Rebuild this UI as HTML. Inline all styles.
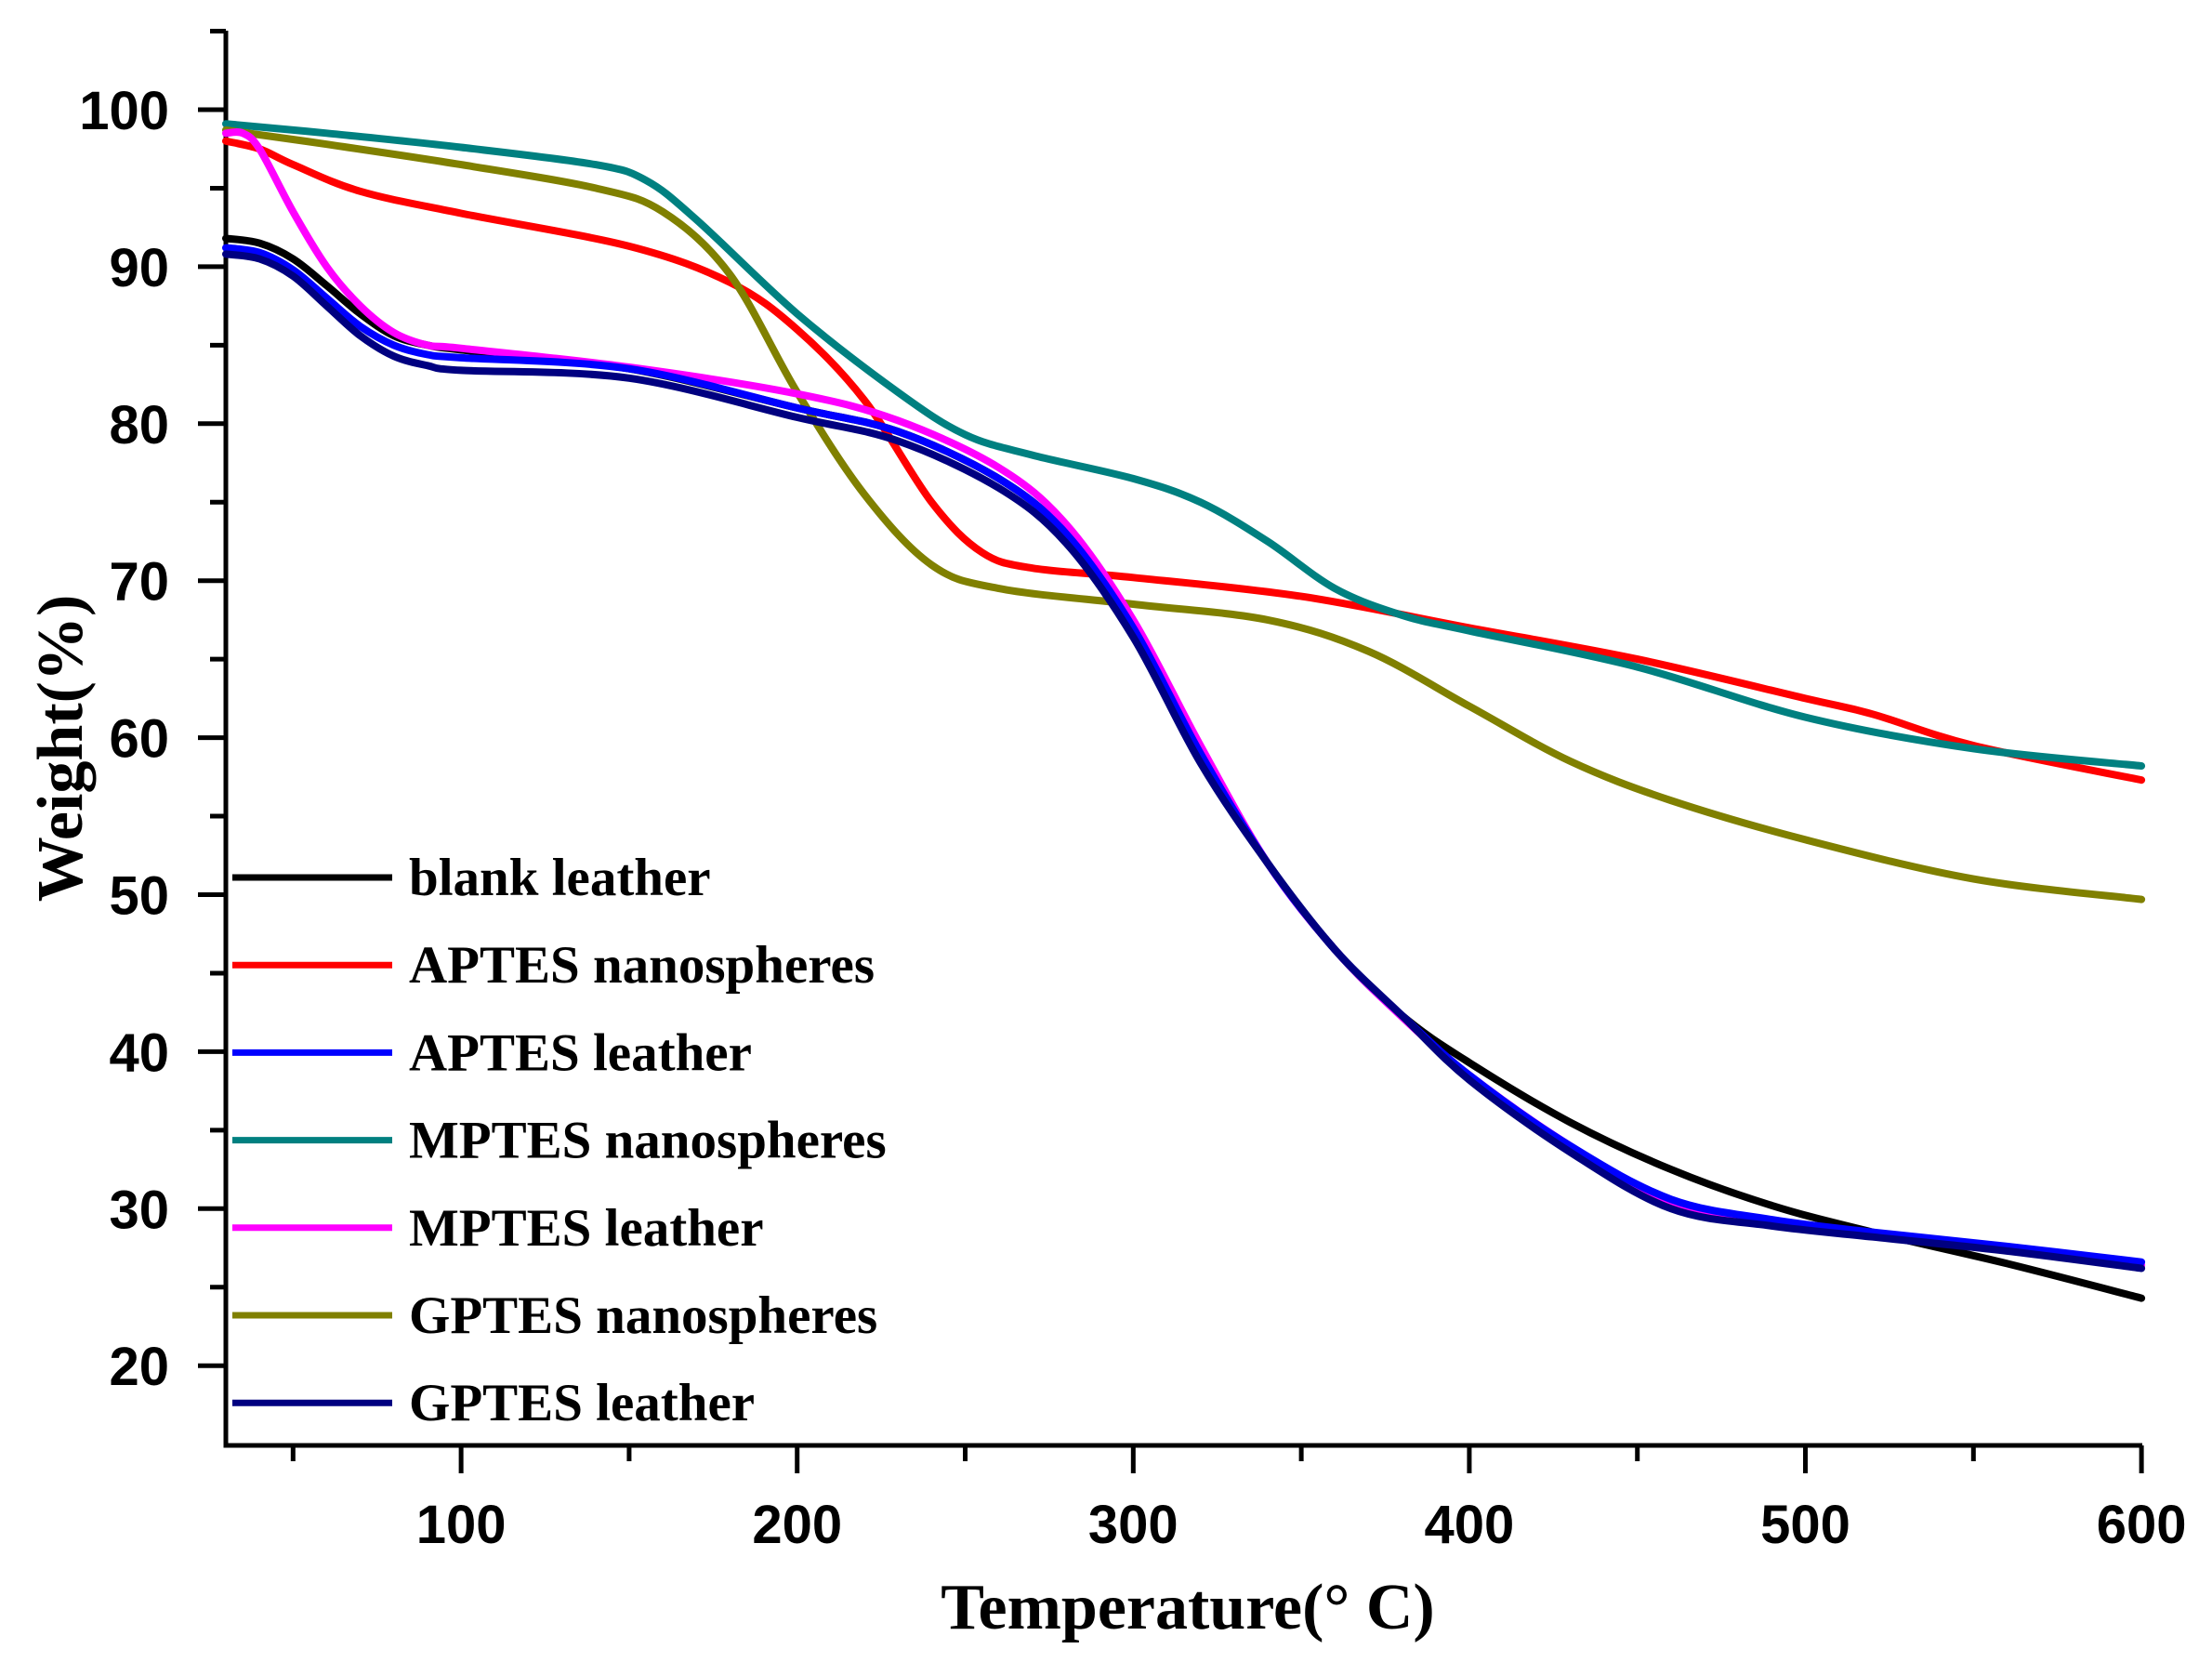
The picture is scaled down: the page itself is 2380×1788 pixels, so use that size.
<!DOCTYPE html>
<html><head><meta charset="utf-8"><style>
html,body{margin:0;padding:0;background:#fff;}
svg{display:block}
</style></head><body>
<svg id="s" width="2380" height="1788" viewBox="0 0 2380 1788" xmlns="http://www.w3.org/2000/svg">
<g id="axes" stroke="#000" stroke-width="5" fill="none"></g>
<g id="curves" fill="none" stroke-width="8" stroke-linejoin="round" stroke-linecap="round"></g>
<g id="labels" font-family="Liberation Sans, sans-serif" font-weight="bold" font-size="58" fill="#000"></g>
<text x="1278" y="1752" text-anchor="middle" font-family="Liberation Serif, serif" font-weight="bold" font-size="70">Temperature(°  C)</text>
<text transform="translate(88,805) rotate(-90)" text-anchor="middle" font-family="Liberation Serif, serif" font-weight="bold" font-size="70">Weight(%)</text>
<g id="legend" font-family="Liberation Serif, serif" font-weight="bold" font-size="57"></g>
</svg>
<script>
const NS="http://www.w3.org/2000/svg";
const X=t=>243+(t-30)*3.616, Y=w=>118+(100-w)*16.89;
function el(p,tag,a,txt){const e=document.createElementNS(NS,tag);for(const k in a)e.setAttribute(k,a[k]);if(txt)e.textContent=txt;p.appendChild(e);return e;}
const ax=document.getElementById('axes'),lb=document.getElementById('labels');
el(ax,'path',{d:`M243,33 L243,1555 L2305,1555`});
for(let t=50;t<=600;t+=50){const maj=t%100==0;el(ax,'line',{x1:X(t),y1:1555,x2:X(t),y2:1555+(maj?30:17)});
 if(maj)el(lb,'text',{x:X(t),y:1660,'text-anchor':'middle'},String(t));}
for(let w=20;w<=105;w+=5){const maj=w%10==0;el(ax,'line',{x1:243,y1:Y(w),x2:243-(maj?30:17),y2:Y(w)});
 if(maj)el(lb,'text',{x:182,y:Y(w)+21,'text-anchor':'end'},String(w));}
function path(pts){pts=pts.map(p=>[X(p[0]),Y(p[1])]);let d=`M${pts[0][0]},${pts[0][1]}`;
 for(let i=0;i<pts.length-1;i++){const p0=pts[Math.max(0,i-1)],p1=pts[i],p2=pts[i+1],p3=pts[Math.min(pts.length-1,i+2)];
 const c1=[p1[0]+(p2[0]-p0[0])/6,p1[1]+(p2[1]-p0[1])/6],c2=[p2[0]-(p3[0]-p1[0])/6,p2[1]-(p3[1]-p1[1])/6];
 d+=` C${c1[0].toFixed(1)},${c1[1].toFixed(1)} ${c2[0].toFixed(1)},${c2[1].toFixed(1)} ${p2[0].toFixed(1)},${p2[1].toFixed(1)}`;}return d;}
const lower=(s,b,c)=>[[150,83.5+b],[200,81+b],[230,79.5+b],[260,76.5+b],[280,73+b],[300,67+b],[320,59+b],[340,52],[360,46.5],[380,42.3],[400,38.5+c]];
const S={
black:[[30,91.8],[40,91.5],[50,90.5],[60,88.8],[70,87],[80,85.6],[90,85],[100,84.7],...lower(0,0,0.8),[430,35.5],[460,32.5],[490,30.2],[520,28.5],[560,26.5],[600,24.3]],
red:[[30,98],[40,97.5],[50,96.5],[70,94.8],[100,93.4],[150,91.3],[180,89],[200,86],[220,81.5],[240,75],[255,71.8],[270,70.8],[300,70.2],[350,69],[400,67],[450,65],[500,62.5],[520,61.5],[550,59.5],[600,57.3]],
blue:[[30,91.2],[40,90.9],[50,89.8],[60,88],[70,86.2],[80,85],[90,84.4],[100,84.2],...lower(0,0,0),[430,34],[460,30.6],[490,29.3],[520,28.5],[560,27.6],[600,26.6]],
teal:[[30,99.1],[60,98.5],[100,97.6],[140,96.5],[155,95.5],[170,93],[200,87],[230,82],[250,79.3],[270,78],[300,76.5],[320,75],[340,72.5],[360,69.5],[380,67.8],[400,66.8],[450,64.5],[500,61.3],[550,59.3],[600,58.2]],
magenta:[[30,98.5],[35,98.5],[40,97.5],[50,93.5],[60,90],[70,87.5],[80,85.8],[90,85],[100,84.8],[150,83.6],[200,81.9],[230,80.2],[260,77.2],[280,73.6],[300,67.5],[320,59.5],[340,52],[360,46.5],[380,42.2],[400,38.5],[430,34],[460,30.4],[490,29.1],[520,28.4],[560,27.5],[600,26.4]],
olive:[[30,98.7],[60,97.8],[100,96.5],[140,95],[160,93.5],[180,89.5],[200,82],[220,75.5],[240,71],[260,69.5],[300,68.5],[340,67.5],[370,65.5],[400,62],[430,58.5],[460,56],[500,53.5],[550,51],[600,49.7]],
navy:[[30,90.8],[40,90.5],[50,89.4],[60,87.5],[70,85.6],[80,84.3],[90,83.7],[100,83.4],...lower(0,-0.6,-0.3),[430,33.6],[460,30],[490,28.9],[520,28.2],[560,27.3],[600,26.2]]};
const col={black:'#000',red:'#ff0000',blue:'#0000ff',teal:'#008080',magenta:'#ff00ff',olive:'#808000',navy:'#000080'};
const cv=document.getElementById('curves');
['red','teal','olive','black','magenta','blue','navy'].forEach(k=>el(cv,'path',{d:path(S[k]),stroke:col[k]}));
const lg=document.getElementById('legend');
[['black','blank leather'],['red','APTES nanospheres'],['blue','APTES leather'],['teal','MPTES nanospheres'],['magenta','MPTES leather'],['olive','GPTES nanospheres'],['navy','GPTES leather']].forEach((r,i)=>{
 const y=944+i*94.2;el(lg,'line',{x1:250,y1:y,x2:422,y2:y,stroke:col[r[0]],'stroke-width':7});
 el(lg,'text',{x:440,y:y+19},r[1]);});
</script>
</body></html>
